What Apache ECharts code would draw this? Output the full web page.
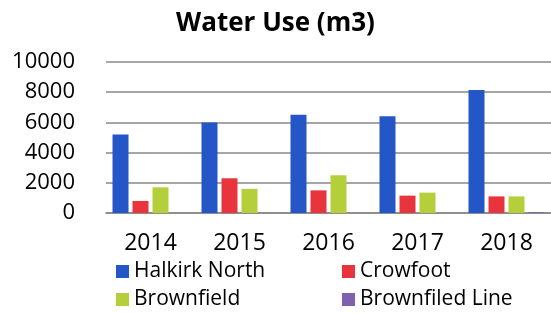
<!DOCTYPE html>
<html><head><meta charset="utf-8">
<script src="https://cdn.jsdelivr.net/npm/echarts@6/dist/echarts.min.js"></script>
<style>html,body{margin:0;padding:0;background:#fff}#c{width:551px;height:314px}</style>
</head><body><div id="c"></div>
<script>
const categories = ['2014', '2015', '2016', '2017', '2018'];
const halkirkNorth = [5200, 6000, 6500, 6400, 8150];
const crowfoot = [800, 2300, 1500, 1150, 1100];
const brownfield = [1700, 1600, 2500, 1350, 1100];
const brownfiledLine = [0, 0, 0, 0, 60];
const yTicks = [0, 2000, 4000, 6000, 8000, 10000];

const chart = echarts.init(document.getElementById('c'));
const font = '"Open Sans", sans-serif';
const colors = ['#2456c8', '#e8343c', '#b4cf3a', '#7e62b0'];
const legendText = { fontFamily: font, fontSize: 21, color: '#000' };
function leg(name, left, top) {
  return { data: [name], orient: 'horizontal', left: left, top: top, padding: 0,
    itemWidth: 13, itemHeight: 13, icon: 'rect', textStyle: legendText };
}
chart.setOption({
  animation: false,
  color: colors,
  title: {
    text: 'Water Use (m3)', left: 'center', top: 6,
    textStyle: { fontFamily: font, fontWeight: 'bold', fontSize: 26, color: '#000' }
  },
  legend: [
    leg('Halkirk North', 116, 261),
    leg('Crowfoot', 342, 261),
    leg('Brownfield', 116, 289),
    leg('Brownfiled Line', 342, 289)
  ],
  grid: { left: 106, top: 62, width: 448, height: 151, containLabel: false },
  xAxis: {
    type: 'category', data: categories,
    axisLine: { lineStyle: { color: '#888', width: 1.5 } },
    axisTick: { show: false },
    axisLabel: { fontFamily: font, fontSize: 23, color: '#000', margin: 19 }
  },
  yAxis: {
    type: 'value', min: yTicks[0], max: yTicks[yTicks.length - 1], interval: 2000,
    axisLine: { show: false }, axisTick: { show: false },
    splitLine: { lineStyle: { color: '#888', width: 1.5 } },
    axisLabel: { fontFamily: font, fontSize: 22, color: '#000', margin: 31,
      formatter: function (v) { return String(v); } }
  },
  series: [
    { name: 'Halkirk North', type: 'bar', data: halkirkNorth, barWidth: 16, barGap: '25%', barCategoryGap: '15%' },
    { name: 'Crowfoot', type: 'bar', data: crowfoot, barWidth: 16, barGap: '25%' },
    { name: 'Brownfield', type: 'bar', data: brownfield, barWidth: 16, barGap: '25%' },
    { name: 'Brownfiled Line', type: 'bar', data: brownfiledLine, barWidth: 16, barGap: '25%' }
  ]
});
</script></body></html>
